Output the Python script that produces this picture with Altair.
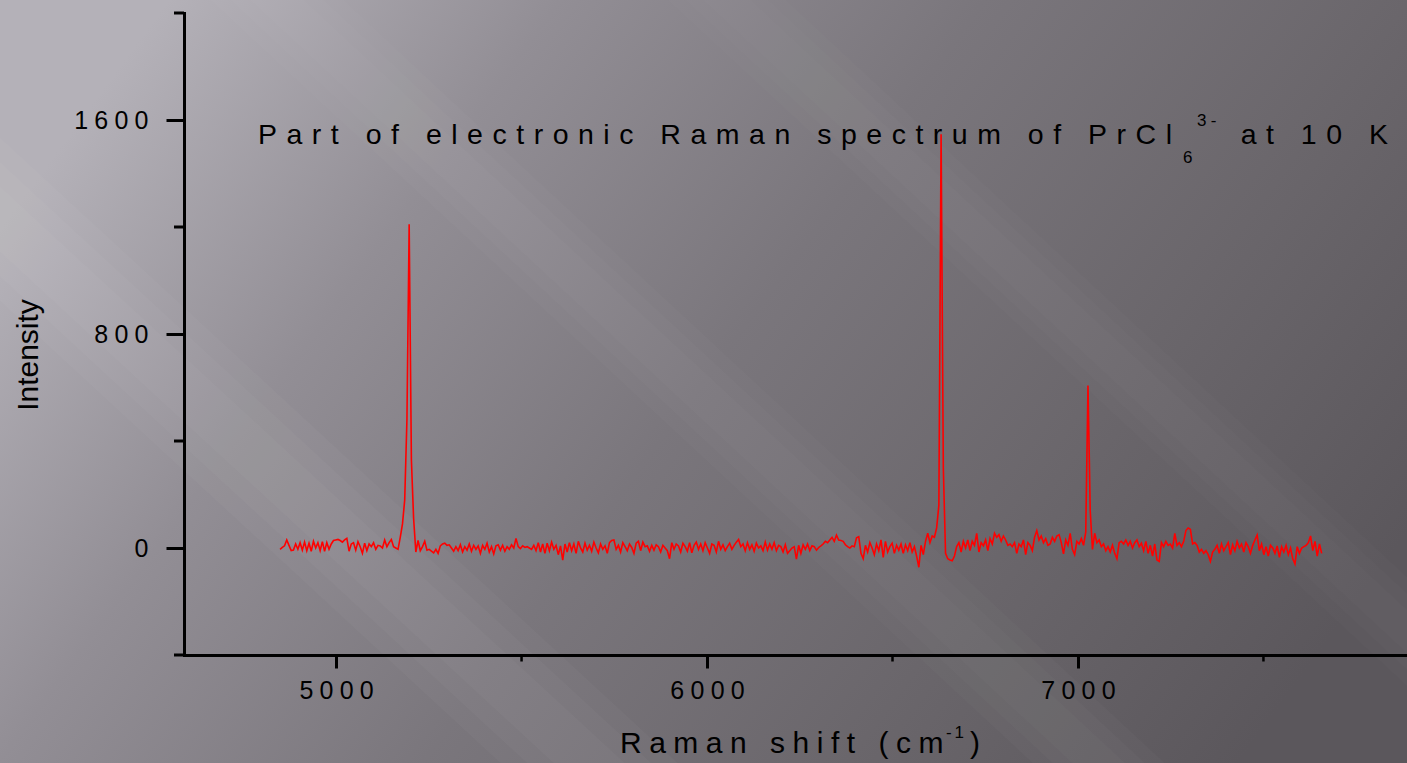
import altair as alt
import pandas as pd

# ---------------- data ----------------
shift_start = 4849   # cm^-1 of first sample
shift_step = 6       # cm^-1 between samples

intensity = [
    -5, 2, 8, 30, 10, -10, -8, 15, -5, 20,
    -8, 22, -10, 18, -12, 25, 0, 20, -10, 24,
    -12, 20, -5, 15, 28, 30, 32, 28, 22, 30,
    36, -12, 15, 20, -8, 24, 5, -20, 18, -10,
    15, 5, 20, -5, 10, 8, 0, 30, 5, 20,
    32, 5, 0, -5, 40, 90, 180, 480, 1210, 330,
    110, -15, 28, -10, 5, 25, -8, -5, -12, -18,
    -5, -20, 8, 15, 18, 10, 12, 0, -12, 5,
    -10, 12, -15, 5, -8, 15, -12, 10, -5, 8,
    -20, 10, -5, 18, -15, 5, -22, 8, 12, -8,
    10, -12, 5, -5, 12, 0, 36, 5, -2, 8,
    2, 5, 0, -5, 10, -10, 20, -15, 15, -20,
    18, -10, 22, -5, 10, -25, 8, -45, 15, -15,
    20, -10, 15, -20, 25, 0, -15, 18, -8, 10,
    -12, 22, 0, -18, 15, -5, 8, -20, 20, 28,
    30, -5, 10, -15, 20, 5, -10, 15, 2, -20,
    18, 25, -10, 22, 5, 8, -12, 10, -8, 12,
    5, -15, 10, 0, -10, -40, 20, -5, 15, 8,
    -15, 18, 5, -12, 20, -18, 10, 22, -5, 15,
    -10, 20, 0, -20, 15, 10, -15, 25, -5, 12,
    -10, 5, 18, -5, 10, 22, 32, 5, 15, -10,
    20, -5, 12, -12, 18, 0, 8, -10, 22, -8,
    15, -5, 20, -10, 10, 5, -15, 12, -20, -10,
    0, 5, -42, 10, -20, 12, -5, 15, -10, 8,
    5, -8, 2, 8, 15, 25, 20, 30, 40, 25,
    48, 30, 28, 25, 12, 5, 0, 8, 5, 38,
    42, -20, -40, 10, -15, 20, 0, -25, 15, -10,
    30, -35, 25, -15, 5, 18, -20, 10, -8, 15,
    -20, 12, -10, 20, -15, 5, -30, -72, 10, -25,
    25, 55, 20, 45, 40, 75, 160, 1547, 300, -20,
    -40, -45, -48, -30, 5, 20, -15, 25, 0, 30,
    -10, 25, 10, 55, -15, 20, 8, 30, -10, 35,
    15, 55, 40, 50, 25, 45, 30, 10, 15, 5,
    20, -20, 15, 5, 30, -25, 20, 10, -10, 40,
    65, 30, 45, 20, 35, 10, 15, 40, 25, 45,
    50, 20, -22, 30, 10, 55, -5, -25, 25, 15,
    35, 10, 60, 607, 140, -5, 55, 20, 30, 5,
    15, -10, 5, -15, 10, -20, -40, 20, 25, 15,
    30, 10, 25, 0, 20, 30, 5, 18, -10, 25,
    -20, 10, -30, 15, -45, -50, 20, 5, 25, 10,
    15, 0, 55, 10, 20, 5, 25, 65, 75, 70,
    15, 20, 10, -15, -5, -20, -10, -25, -50, -15,
    -5, 10, -20, 15, -10, 5, 20, -25, 12, -10,
    25, 0, 15, -15, 20, 5, -20, 10, 30, 48,
    -10, 15, -25, 5, -30, 10, 0, -20, 8, -35,
    5, -15, 10, -25, 0, -40, -60, 5, -20, 0,
    5, 10, 20, 45, -10, 25, -30, 15, -20,
]

x_domain = [4590, 7887]
y_domain = [-400, 2000]
x_major = [5000, 6000, 7000]
x_minor = [5500, 6500, 7500]
y_major = [0, 800, 1600]
y_minor = [-400, 400, 1200, 2000]

title_main = "Part of electronic Raman spectrum of PrCl"
title_sub = "6"
title_sup = "3-"
title_end = "at 10 K"
xtitle_main = "Raman shift (cm"
xtitle_sup = "-1"
xtitle_end = ")"
ytitle = "Intensity"

# ---------------- layout / style ----------------
W, H = 1223, 642
PL, PT, PR, PB = 184, 13, 0, 108
FONT = "Liberation Sans"
THREE = "\u2004"  # 1/3 em letter spacing (title)
FOUR = "\u2005"   # 1/4 em letter spacing (axis text)
SIX = "\u2006"


def spaced(s, sep):
    return sep.join(list(s))


df = pd.DataFrame({
    "shift": [shift_start + shift_step * i for i in range(len(intensity))],
    "intensity": intensity,
})
one = pd.DataFrame({"k": [0]})

xs = alt.Scale(domain=x_domain, nice=False, zero=False)
ys = alt.Scale(domain=y_domain, nice=False, zero=False)

label_expr = "join(split(datum.label, ''), '" + FOUR + "')"

x_axis = alt.Axis(values=x_major, format="d", labelExpr=label_expr,
                  tickSize=13, tickWidth=3, tickColor="black",
                  domainColor="black", domainWidth=3, domainCap="square",
                  labelPadding=10, labelFontSize=25, labelFont=FONT,
                  labelColor="black", labelFlush=False, labelOverlap=False,
                  grid=False, title=None, zindex=1)
y_axis = alt.Axis(values=y_major, format="d", labelExpr=label_expr,
                  tickSize=18, tickWidth=3, tickColor="black",
                  domainColor="black", domainWidth=3, domainCap="square",
                  labelPadding=18, labelFontSize=25, labelFont=FONT,
                  labelColor="black", labelFlush=False, labelOverlap=False,
                  grid=False, title=None, zindex=1)

# background gradient covering the whole canvas
bg = alt.Chart(one).mark_rect(
    fill=alt.LinearGradient(
        gradient="linear",
        stops=[alt.GradientStop(color="#b4b1b8", offset=0),
               alt.GradientStop(color="#928e95", offset=0.24),
               alt.GradientStop(color="#7a767c", offset=0.5),
               alt.GradientStop(color="#6a666b", offset=0.76),
               alt.GradientStop(color="#5b575c", offset=1)],
        x1=0, y1=0.3, x2=1, y2=0.7),
    strokeWidth=0,
).encode(x=alt.value(-PL), x2=alt.value(W + PR),
         y=alt.value(-PT), y2=alt.value(H + PB))


def stripe(x0, y0, x1, y1, w, op):
    layers = []
    for f in (1.0, 0.7, 0.4):
        layers.append(alt.Chart(one).mark_rule(
            color="white", strokeWidth=w * f, opacity=op / 3, strokeCap="butt"
        ).encode(x=alt.value(x0 - PL), y=alt.value(y0 - PT),
                 x2=alt.value(x1 - PL), y2=alt.value(y1 - PT)))
    return layers


stripes = []
stripes += stripe(-400, -150, 900, 1050, 120, 0.08)
stripes += stripe(-100, -350, 1300, 950, 90, 0.06)
stripes += stripe(350, -350, 1750, 950, 80, 0.045)

line = alt.Chart(df).mark_line(color="#ff0000", strokeWidth=1.6).encode(
    x=alt.X("shift:Q", scale=xs, axis=x_axis),
    y=alt.Y("intensity:Q", scale=ys, axis=y_axis),
)

ymin = alt.Chart(pd.DataFrame({"v": y_minor})).mark_rule(
    color="black", strokeWidth=3).encode(
    y=alt.Y("v:Q", scale=ys, axis=y_axis),
    x=alt.value(-10), x2=alt.value(0))

xmin = alt.Chart(pd.DataFrame({"v": x_minor})).mark_rule(
    color="black", strokeWidth=2.5).encode(
    x=alt.X("v:Q", scale=xs, axis=x_axis),
    y=alt.value(H), y2=alt.value(H + 6.5))


def txt(s, x, y, size, align="left", angle=None):
    kw = dict(text=s, font=FONT, fontSize=size, color="black",
              align=align, baseline="alphabetic")
    if angle is not None:
        kw["angle"] = angle
    return alt.Chart(one).mark_text(**kw).encode(
        x=alt.value(x - PL), y=alt.value(y - PT))


texts = [
    txt(spaced(title_main, THREE), 258, 144, 28.5),
    txt(title_sub, 1183, 163, 17),
    txt(spaced(title_sup, FOUR), 1197, 126, 17),
    txt(spaced(title_end, THREE), 1388, 144, 28.5, align="right"),
    txt(spaced(xtitle_main, FOUR), 620, 753, 30),
    txt(spaced(xtitle_sup, SIX), 946, 738, 17),
    txt(xtitle_end, 970, 753, 30),
    txt(ytitle, 38, 355, 30, align="center", angle=270),
]

chart = alt.layer(bg, *stripes, line, ymin, xmin, *texts).properties(
    width=W, height=H,
    padding={"left": PL, "top": PT, "right": PR, "bottom": PB},
    autosize=alt.AutoSizeParams(type="none"),
).configure_view(strokeOpacity=0).configure(background="#7a767c")

chart.save("out.html", embed_options={"renderer": "svg", "actions": False})
